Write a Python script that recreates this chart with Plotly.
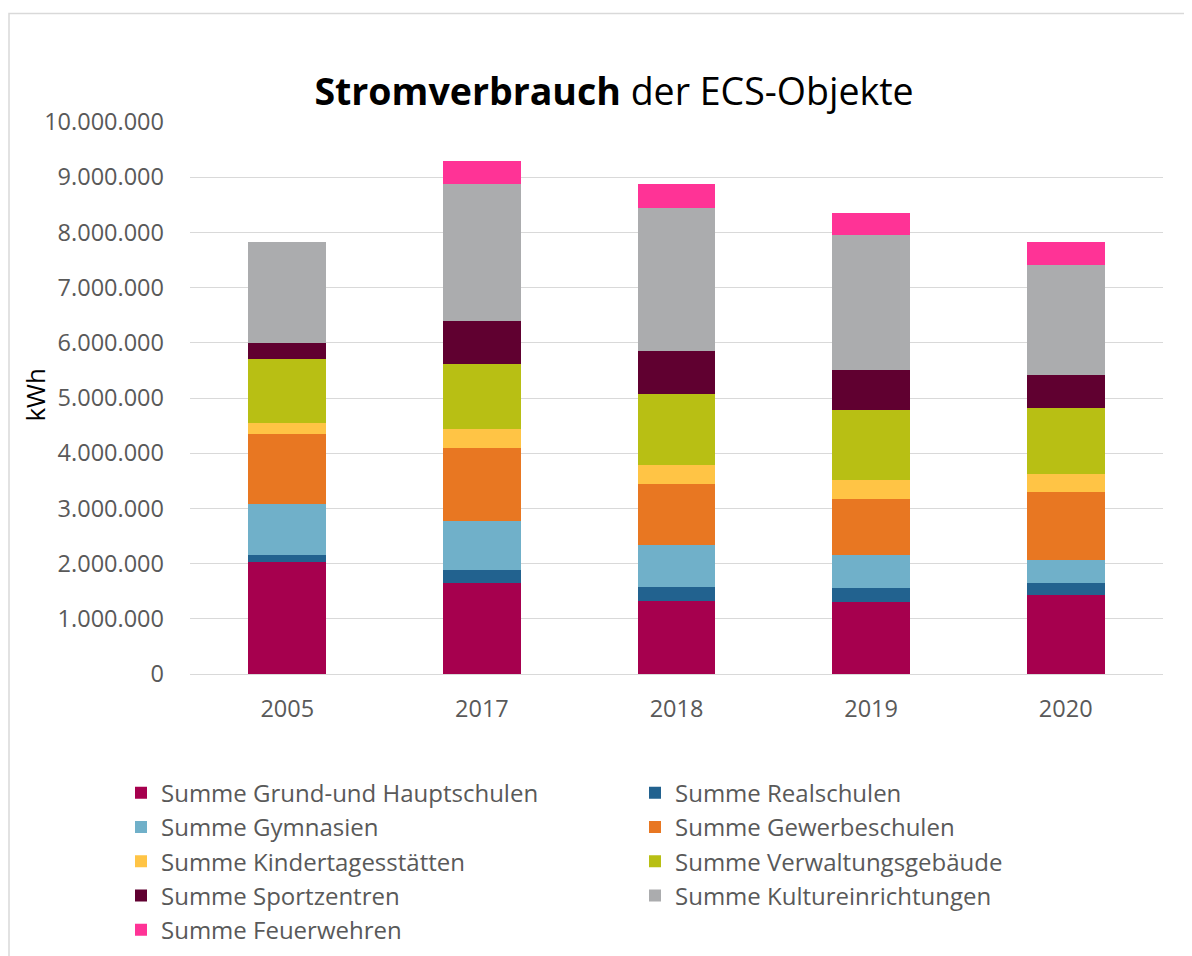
import plotly.graph_objects as go

years = ["2005", "2017", "2018", "2019", "2020"]

grund = [2030000, 1650000, 1330000, 1310000, 1440000]
real = [130000, 240000, 250000, 250000, 210000]
gymnasien = [920000, 880000, 760000, 600000, 420000]
gewerbe = [1270000, 1330000, 1100000, 1010000, 1220000]
kita = [200000, 340000, 340000, 350000, 340000]
verwaltung = [1150000, 1170000, 1290000, 1260000, 1180000]
sport = [290000, 790000, 780000, 720000, 600000]
kultur = [1830000, 2470000, 2590000, 2450000, 2000000]
feuerwehr = [0, 430000, 440000, 410000, 410000]

series_names = [
    "Summe Grund-und Hauptschulen", "Summe Realschulen", "Summe Gymnasien",
    "Summe Gewerbeschulen", "Summe Kindertagesstätten", "Summe Verwaltungsgebäude",
    "Summe Sportzentren", "Summe Kultureinrichtungen", "Summe Feuerwehren",
]
series_values = [grund, real, gymnasien, gewerbe, kita, verwaltung, sport, kultur, feuerwehr]
colors = ["#A6004E", "#22628F", "#70B0C9", "#E87722", "#FFC445",
          "#B8BF14", "#600030", "#ABACAE", "#FF3396"]

FONT = "Open Sans"
GREY_TXT = "#595959"

fig = go.Figure()
for name, vals, col in zip(series_names, series_values, colors):
    fig.add_trace(go.Bar(
        x=years, y=vals, name=name,
        marker=dict(color=col, line=dict(width=0)),
        hovertemplate="%{x}: %{y:,.0f} kWh<extra>" + name + "</extra>",
    ))

W, H = 1192, 956
OFFX = 8


def fx(X):
    # target screen x -> figure x
    return X - OFFX


def fy(Y):
    # target screen y -> figure y
    return (Y - 9.44) / 0.9874


L = fx(190)
R = W - fx(1163)
T = fy(122)
B = H - fy(681)
pw, ph = W - L - R, H - T - B


def px_x(X):
    return (fx(X) - L) / pw


def px_y(Y):
    return (H - B - fy(Y)) / ph


fig.update_layout(
    width=W, height=H,
    barmode="stack",
    bargap=0.6,
    separators=",.",
    plot_bgcolor="white",
    paper_bgcolor="white",
    font=dict(family=FONT, size=23, color=GREY_TXT),
    margin=dict(l=L, r=R, t=T, b=B),
    title=dict(
        text="<b>Stromverbrauch</b> der ECS-Objekte",
        font=dict(family=FONT, size=37.5, color="black"),
        x=fx(614) / W, xanchor="center", xref="container",
        y=1 - fy(92) / H, yanchor="middle", yref="container",
    ),
    xaxis=dict(
        showgrid=False, showline=False, zeroline=False,
        ticks="", ticklabelstandoff=18,
        tickfont=dict(family=FONT, size=23.5, color=GREY_TXT),
    ),
    yaxis=dict(
        range=[0, 10000000], dtick=1000000, tick0=0,
        tickformat=",d",
        showgrid=True, gridcolor="#d9d9d9", gridwidth=1.3,
        zeroline=True, zerolinecolor="#d9d9d9", zerolinewidth=1.3,
        showline=False, ticks="", ticklabelstandoff=25,
        tickfont=dict(family=FONT, size=23.5, color=GREY_TXT),
    ),
    legend=dict(
        orientation="h",
        x=px_x(121), xanchor="left",
        y=px_y(779), yanchor="top",
        traceorder="normal",
        entrywidth=469, entrywidthmode="pixels",
        font=dict(family=FONT, size=24, color=GREY_TXT),
        itemclick=False, itemdoubleclick=False,
        tracegroupgap=0,
    ),
    showlegend=True,
    annotations=[dict(
        text="kWh", textangle=-90,
        x=px_x(35), y=px_y(398), xref="paper", yref="paper",
        xanchor="center", yanchor="middle", showarrow=False,
        font=dict(family=FONT, size=26, color="black"),
    )],
    shapes=[dict(
        type="rect", xref="paper", yref="paper",
        x0=px_x(9), x1=px_x(1230), y0=px_y(1000), y1=px_y(12),
        line=dict(color="#d9d9d9", width=1.5), fillcolor="rgba(0,0,0,0)",
        layer="below",
    )],
)

fig.write_html("out.html")
